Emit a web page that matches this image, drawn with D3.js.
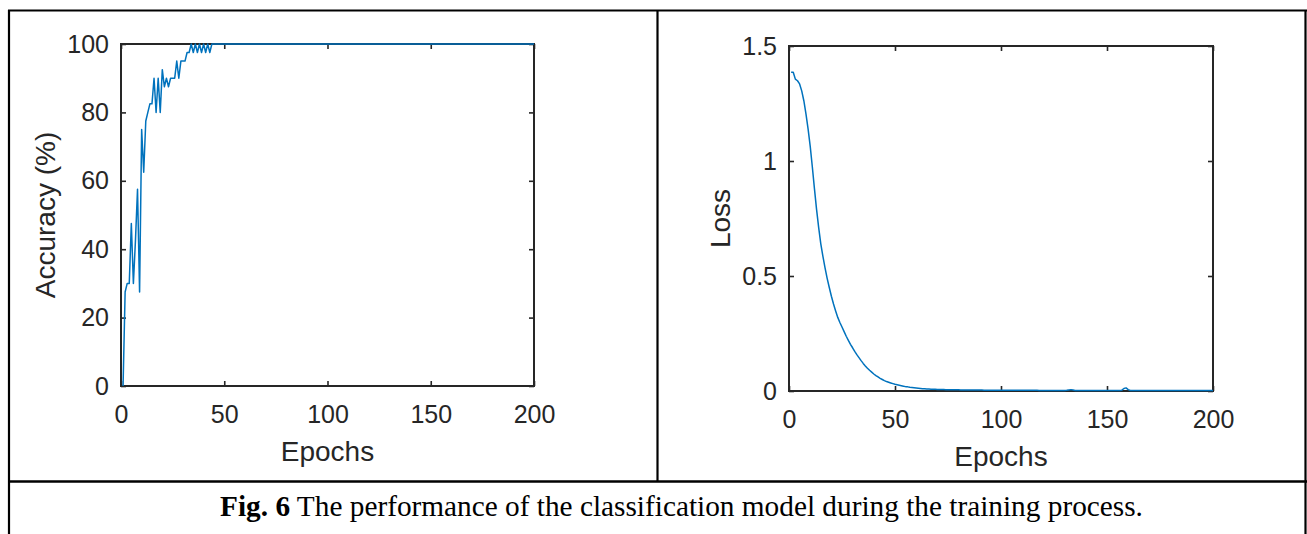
<html><head>
<script src="https://d3js.org/d3.v7.min.js"></script>
<style> body { margin: 0; background: #fff; } </style>
</head>
<body>
<div id="fig"></div>
<script>

// data (epochs 1..200)
const epochs = d3.range(1, 201);
const accuracy = [
  0, 27.5, 30, 30, 47.5, 30, 42.5, 57.5, 27.5, 75,
  62.5, 77.5, 80, 82.5, 82.5, 90, 80, 90, 80, 92.5,
  87.5, 90, 87.5, 90, 90, 90, 95, 90, 95, 95,
  95, 97.5, 97.5, 100, 97.5, 100, 97.5, 100, 97.5, 100,
  97.5, 100, 97.5, 100, 100, 100, 100, 100, 100, 100,
  100, 100, 100, 100, 100, 100, 100, 100, 100, 100,
  100, 100, 100, 100, 100, 100, 100, 100, 100, 100,
  100, 100, 100, 100, 100, 100, 100, 100, 100, 100,
  100, 100, 100, 100, 100, 100, 100, 100, 100, 100,
  100, 100, 100, 100, 100, 100, 100, 100, 100, 100,
  100, 100, 100, 100, 100, 100, 100, 100, 100, 100,
  100, 100, 100, 100, 100, 100, 100, 100, 100, 100,
  100, 100, 100, 100, 100, 100, 100, 100, 100, 100,
  100, 100, 100, 100, 100, 100, 100, 100, 100, 100,
  100, 100, 100, 100, 100, 100, 100, 100, 100, 100,
  100, 100, 100, 100, 100, 100, 100, 100, 100, 100,
  100, 100, 100, 100, 100, 100, 100, 100, 100, 100,
  100, 100, 100, 100, 100, 100, 100, 100, 100, 100,
  100, 100, 100, 100, 100, 100, 100, 100, 100, 100,
  100, 100, 100, 100, 100, 100, 100, 100, 100, 100
];
const loss = [
  1.386, 1.386, 1.356, 1.349, 1.335, 1.305, 1.262, 1.205, 1.140, 1.065,
  0.975, 0.880, 0.790, 0.710, 0.640, 0.585, 0.535, 0.490, 0.450, 0.412,
  0.378, 0.348, 0.320, 0.298, 0.278, 0.258, 0.238, 0.220, 0.203, 0.188,
  0.172, 0.158, 0.145, 0.132, 0.120, 0.109, 0.099, 0.090, 0.082, 0.074,
  0.067, 0.061, 0.055, 0.050, 0.045, 0.041, 0.038, 0.035, 0.032, 0.029,
  0.027, 0.025, 0.023, 0.021, 0.019, 0.018, 0.016, 0.015, 0.014, 0.013,
  0.012, 0.011, 0.010, 0.0095, 0.009, 0.0085, 0.008, 0.0076, 0.0072, 0.0069,
  0.0066, 0.0063, 0.0061, 0.0059, 0.0057, 0.0055, 0.0053, 0.0051, 0.005, 0.0049,
  0.0048, 0.0047, 0.0046, 0.0045, 0.0044, 0.0043, 0.0042, 0.0041, 0.004, 0.0039,
  0.0039, 0.0038, 0.0038, 0.0037, 0.0037, 0.0036, 0.0036, 0.0035, 0.0035, 0.0034,
  0.0034, 0.0033, 0.0033, 0.0032, 0.0032, 0.0031, 0.0031, 0.0031, 0.003, 0.003,
  0.003, 0.0029, 0.0029, 0.0029, 0.0028, 0.0028, 0.0028, 0.0027, 0.0027, 0.0027,
  0.0027, 0.0026, 0.0026, 0.0026, 0.0026, 0.0025, 0.0025, 0.0025, 0.0025, 0.0025,
  0.003, 0.0045, 0.006, 0.0042, 0.0026, 0.0024, 0.0024, 0.0024, 0.0023, 0.0023,
  0.0023, 0.0023, 0.0022, 0.0022, 0.0022, 0.0022, 0.0022, 0.0021, 0.0021, 0.0021,
  0.0021, 0.0021, 0.0021, 0.002, 0.002, 0.002, 0.0035, 0.011, 0.0135, 0.006,
  0.0025, 0.002, 0.002, 0.002, 0.0019, 0.0019, 0.0019, 0.0019, 0.0019, 0.0019,
  0.0018, 0.0018, 0.0018, 0.0018, 0.0018, 0.0018, 0.0018, 0.0018, 0.0018, 0.0018,
  0.0018, 0.0018, 0.0017, 0.0017, 0.0017, 0.0017, 0.0017, 0.0017, 0.0017, 0.0017,
  0.0017, 0.0017, 0.0017, 0.0017, 0.0017, 0.0017, 0.0017, 0.0017, 0.0017, 0.0017
];
const xTicks = [0, 50, 100, 150, 200];
const accTicks = [0, 20, 40, 60, 80, 100];
const lossTicks = [0, 0.5, 1, 1.5];

// constants
const canvas = [1307, 534];
const ink = '#262626';
const blue = '#0072bd';
const sans = '"Liberation Sans", Arial, Helvetica, sans-serif';
const serif = '"Liberation Serif", "Times New Roman", serif';

const svg = d3.select('#fig').append('svg')
  .attr('width', canvas[0])
  .attr('height', canvas[1]);

svg.append('rect')
  .attr('width', canvas[0])
  .attr('height', canvas[1])
  .style('fill', '#fff');

// table frame
const drawTable = () => {
  const g = svg.append('g').attr('stroke', '#000').attr('stroke-width', 2.2);
  g.append('line').attr('x1', 8).attr('x2', 1307).attr('y1', 10.5).attr('y2', 10.5);
  g.append('line').attr('x1', 9).attr('x2', 9).attr('y1', 10).attr('y2', 534);
  g.append('line').attr('x1', 1305.5).attr('x2', 1305.5).attr('y1', 10).attr('y2', 534);
  g.append('line').attr('x1', 657.5).attr('x2', 657.5).attr('y1', 10).attr('y2', 481);
  g.append('line').attr('x1', 8).attr('x2', 1307).attr('y1', 481.5).attr('y2', 481.5)
    .attr('stroke-width', 2.6);
};

const styleAxis = (g, labels) => {
  g.select('.domain').remove();
  g.selectAll('.tick line').attr('stroke', ink).attr('stroke-width', 1.6);
  g.selectAll('.tick text')
    .style('font-family', sans)
    .style('font-size', '25px')
    .style('fill', ink)
    .style('display', labels ? null : 'none');
};

const drawPlot = (opt) => {
  const { box, yDomain, yTicks, yFormat, values, yLabel, labelX } = opt;
  const x = d3.scaleLinear().domain([0, 200]).range([box.left, box.right]);
  const y = d3.scaleLinear().domain(yDomain).range([box.bottom, box.top]);
  const g = svg.append('g');

  g.append('g').attr('transform', `translate(0, ${box.bottom})`)
    .call(d3.axisBottom(x).tickValues(xTicks).tickSizeInner(-5).tickSizeOuter(0).tickPadding(19))
    .call(a => styleAxis(a, true));
  g.append('g').attr('transform', `translate(0, ${box.top})`)
    .call(d3.axisTop(x).tickValues(xTicks).tickSizeInner(-5).tickSizeOuter(0))
    .call(a => styleAxis(a, false));
  g.append('g').attr('transform', `translate(${box.left}, 0)`)
    .call(d3.axisLeft(y).tickValues(yTicks).tickFormat(yFormat).tickSizeInner(-5).tickSizeOuter(0).tickPadding(12))
    .call(a => styleAxis(a, true));
  g.append('g').attr('transform', `translate(${box.right}, 0)`)
    .call(d3.axisRight(y).tickValues(yTicks).tickSizeInner(-5).tickSizeOuter(0))
    .call(a => styleAxis(a, false));

  // box
  g.append('rect')
    .attr('x', box.left)
    .attr('y', box.top)
    .attr('width', box.right - box.left)
    .attr('height', box.bottom - box.top)
    .style('fill', 'none')
    .style('stroke', ink)
    .style('stroke-width', 2);

  // curve
  g.append('path')
    .datum(epochs.map((e, i) => [e, values[i]]))
    .attr('d', d3.line().x(d => x(d[0])).y(d => y(d[1])))
    .style('fill', 'none')
    .style('stroke', blue)
    .style('stroke-width', 1.5)
    .style('stroke-linejoin', 'round');

  // labels
  g.append('text')
    .attr('x', (box.left + box.right) / 2)
    .attr('y', box.bottom + 75)
    .attr('text-anchor', 'middle')
    .style('font-family', sans)
    .style('font-size', '28px')
    .style('fill', ink)
    .text('Epochs');
  g.append('text')
    .attr('transform', `translate(${labelX}, ${(box.top + box.bottom) / 2}) rotate(-90)`)
    .attr('text-anchor', 'middle')
    .style('font-family', sans)
    .style('font-size', '28px')
    .style('fill', ink)
    .text(yLabel);
};

const drawCaption = () => {
  const t = svg.append('text')
    .attr('x', 681.5)
    .attr('y', 516)
    .attr('text-anchor', 'middle')
    .style('font-family', serif)
    .style('font-size', '24px')
    .style('fill', '#000');
  t.append('tspan').style('font-weight', 'bold').text('Fig. 6');
  t.append('tspan').text(' The performance of the classification model during the training process.');
  const len = t.node().getComputedTextLength();
  t.style('font-size', `${24 * 923 / len}px`);
};

// main
drawTable();
drawPlot({
  box: { left: 121, right: 534, top: 44, bottom: 386 },
  yDomain: [0, 100], yTicks: accTicks, yFormat: d3.format('d'),
  values: accuracy, yLabel: 'Accuracy (%)', labelX: 55
});
drawPlot({
  box: { left: 789, right: 1213, top: 46, bottom: 391 },
  yDomain: [0, 1.5], yTicks: lossTicks, yFormat: d => String(d),
  values: loss, yLabel: 'Loss', labelX: 730
});
drawCaption();

</script></body></html>
